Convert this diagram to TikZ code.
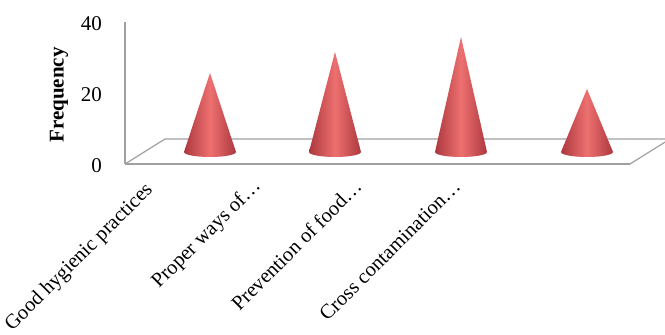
\documentclass[tikz,border=0pt]{standalone}
\usepackage{fontspec}
\setmainfont{Liberation Serif}
\usepackage{tikz}

\definecolor{coneDark}{RGB}{172,56,62}
\definecolor{coneLight}{RGB}{238,112,112}
\definecolor{floorGray}{RGB}{160,160,160}

\tikzset{
  cone/.style={left color=coneDark, right color=coneDark, middle color=coneLight},
  floorline/.style={floorGray, line width=1.2pt},
  ticklabel/.style={anchor=east, font=\fontsize{21}{24}\selectfont, inner sep=0pt},
  catlabel/.style={anchor=east, rotate=45, font=\fontsize{20.5}{24}\selectfont, inner sep=0pt}
}

\begin{document}
\begin{tikzpicture}[x=1pt, y=1pt]
\useasboundingbox (0,0) rectangle (665,335);

% Draw the floor corners
\coordinate (fl) at (125,171);
\coordinate (fr) at (630,171);
\coordinate (bl) at (165,196);
\coordinate (br) at (670,196);
\coordinate (top) at (125,313);

% Draw the floor and the axis
\fill[white] (fl) -- (fr) -- (br) -- (bl) -- cycle;
\draw[floorline] (fl) -- (bl) -- (br);
\draw[floorline] (fr) -- (br);
\draw[floorline, line width=1.6pt] (fl) -- (fr);
\draw[floorline] (fl) -- (top);

% Draw the tick labels
\node[ticklabel] (t40) at (102,311) {40};
\node[ticklabel] (t20) at (102,240) {20};
\node[ticklabel] (t0) at (102,169) {0};
\node[rotate=90, font=\bfseries\fontsize{21}{24}\selectfont] (ylab) at (59,240) {Frequency};

% Draw the cones
\foreach \cx/\h in {210/79, 335/100, 461/115, 587/63} {
  \shade[cone] (\cx,183+\h) -- (\cx-26,183)
    arc[start angle=180, end angle=360, x radius=26, y radius=5] -- cycle;
}

% Draw the category labels
\node[catlabel] (lab1) at (150,148) {Good hygienic practices};
\node[catlabel] (lab2) at (258,152) {Proper ways of\dots};
\node[catlabel] (lab3) at (358,152) {Prevention of food\dots};
\node[catlabel] (lab4) at (457,152) {Cross contamination\dots};
\end{tikzpicture}
\end{document}
